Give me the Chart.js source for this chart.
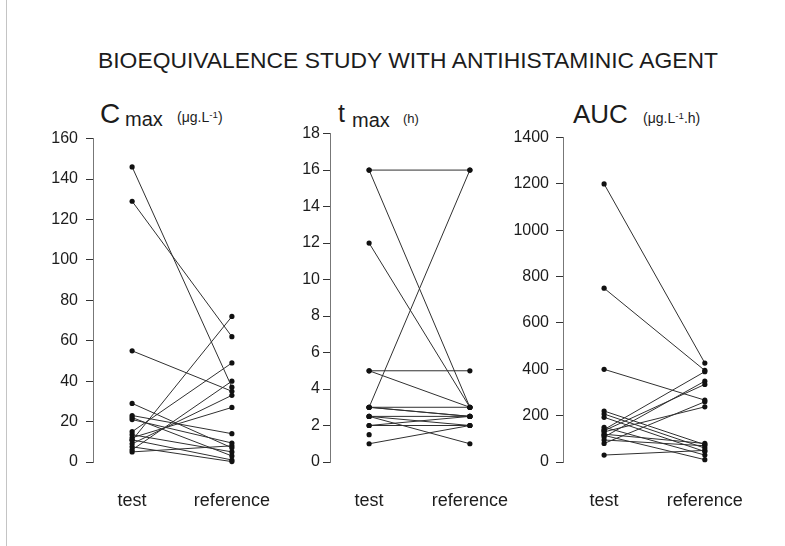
<!DOCTYPE html>
<html><head><meta charset="utf-8">
<script src="https://cdn.jsdelivr.net/npm/chart.js@4.4.1/dist/chart.umd.min.js"></script>
<style>
html,body{margin:0;padding:0;background:#fff;}
#wrap{position:relative;width:785px;height:546px;overflow:hidden;font-family:"Liberation Sans",Arial,sans-serif;color:#1c1c1c;}
.t{position:absolute;white-space:nowrap;line-height:1;color:#1c1c1c;}
canvas{position:absolute;}
sup{font-size:0.7em;vertical-align:0.45em;}
</style></head><body>
<div id="wrap">
  <div style="position:absolute;left:6px;top:0;width:1px;height:546px;background:#c4c4c4"></div>
  <div id="title" class="t" style="left:98px;top:50px;font-size:22px;transform-origin:0 0">BIOEQUIVALENCE STUDY WITH ANTIHISTAMINIC AGENT</div>

  <div class="t" style="left:100px;top:100px;font-size:28px">C</div>
  <div class="t" style="left:125px;top:109px;font-size:20px">max</div>
  <div class="t" style="left:177px;top:110px;font-size:14px">(μg.L<sup>-1</sup>)</div>

  <div class="t" style="left:338px;top:101px;font-size:25px">t</div>
  <div class="t" style="left:352px;top:110px;font-size:20px">max</div>
  <div class="t" style="left:403px;top:112px;font-size:13px">(h)</div>

  <div class="t" style="left:573px;top:101px;font-size:26px">AUC</div>
  <div class="t" style="left:643px;top:111px;font-size:14px">(μg.L<sup>-1</sup>.h)</div>

  <canvas id="c1" width="237" height="391" style="left:40px;top:121px"></canvas>
  <canvas id="c2" width="237" height="391" style="left:277px;top:121px"></canvas>
  <canvas id="c3" width="237" height="391" style="left:510px;top:121px"></canvas>
</div>
<script>
// ---- data ----
const conditions = ['test', 'reference'];

const cmaxTest = [146, 129, 55, 29, 23, 22, 21, 15, 13.5, 12, 10.7, 9, 7.5, 6, 5, 11];
const cmaxRef  = [37, 62, 35, 7, 14, 3, 9.4, 49, 5, 27, 72, 33, 0.2, 40, 8, 1];
const cmaxTicks = [0, 20, 40, 60, 80, 100, 120, 140, 160];

const tmaxTest = [16, 16, 12, 5, 5, 3, 3, 3, 3, 2.5, 2.5, 2.5, 2, 2, 1.5, 1];
const tmaxRef  = [16, 3, 3, 5, 3, 16, 3, 2.5, 2.5, 2.5, 1, 2, 2.5, 2, null, 2];
const tmaxTicks = [0, 2, 4, 6, 8, 10, 12, 14, 16, 18];

const aucTest = [1200, 750, 400, 220, 207, 193, 150, 140, 135, 130, 120, 115, 108, 95, 80, 30];
const aucRef  = [427, 395, 267, 75, 60, 45, 30, 390, 335, 238, 80, 10, 349, 70, 260, 50];
const aucTicks = [0, 200, 400, 600, 800, 1000, 1200, 1400];

// ---- title fit ----
(function(){
  const el = document.getElementById('title');
  const w = el.getBoundingClientRect().width;
  el.style.transform = 'scaleX(' + (620 / w) + ')';
})();

const FAMILY = '"Liberation Sans", Arial, sans-serif';
const INK = '#1c1c1c';

function makePanel(id, test, ref, yTicks, xMin, xMax, labelPad) {
  const datasets = test.map((t, i) => ({
    data: [{x: 0, y: t}, {x: 1, y: ref[i]}],
    showLine: true,
    borderColor: '#303030',
    borderWidth: 1,
    pointRadius: 2.6,
    pointBackgroundColor: '#111',
    pointBorderColor: '#111',
    pointBorderWidth: 0,
    clip: false,
    spanGaps: false
  }));
  new Chart(document.getElementById(id), {
    type: 'scatter',
    data: { datasets },
    options: {
      responsive: false,
      animation: false,
      events: [],
      layout: { padding: { top: 12, right: 0, bottom: 0, left: 0 } },
      plugins: { legend: { display: false }, tooltip: { enabled: false } },
      scales: {
        x: {
          type: 'linear', min: xMin, max: xMax,
          afterBuildTicks: s => { s.ticks = conditions.map((c, i) => ({ value: i })); },
          afterFit: s => { s.height = 50; s.paddingLeft = 0; s.paddingRight = 0; },
          ticks: { callback: v => conditions[v], font: { size: 18, family: FAMILY }, color: INK, padding: 28, autoSkip: false, maxRotation: 0 },
          grid: { display: false, drawTicks: false },
          border: { display: false }
        },
        y: {
          min: yTicks[0], max: yTicks[yTicks.length - 1],
          afterBuildTicks: s => { s.ticks = yTicks.map(v => ({ value: v })); },
          afterFit: s => { s.width = 53; },
          ticks: { callback: v => String(v), font: { size: 16, family: FAMILY }, color: INK, padding: labelPad },
          grid: { drawOnChartArea: false, drawTicks: true, tickLength: 7, color: '#333', lineWidth: 1 },
          border: { display: true, color: '#777', dash: [3, 2], width: 1 }
        }
      }
    }
  });
}

makePanel('c1', cmaxTest, cmaxRef, cmaxTicks, -0.392, 1.412, 8);
makePanel('c2', tmaxTest, tmaxRef, tmaxTicks, -0.388, 1.398, 3);
makePanel('c3', aucTest, aucRef, aucTicks, -0.408, 1.379, 7);
</script>
</body></html>
